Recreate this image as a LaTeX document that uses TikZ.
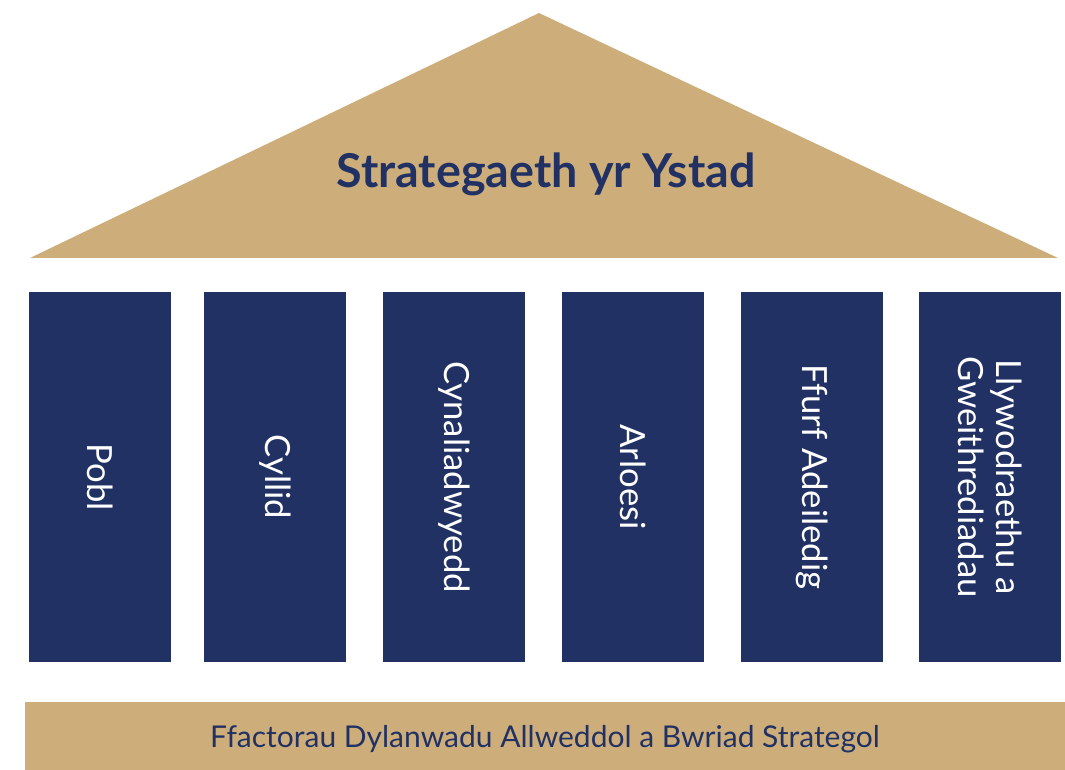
\documentclass[tikz,border=0pt]{standalone}
\usepackage{fontspec}
\setmainfont{Lato}
\definecolor{roofgold}{RGB}{205,174,123}
\definecolor{pillarnavy}{RGB}{33,49,99}
\tikzset{
  pillar/.style={fill=pillarnavy, draw=none, rotate=-90, minimum width=277.5pt, minimum height=106.5pt,
    inner sep=0pt, text=white, align=center, font=\fontsize{26}{29}\selectfont},
}
\begin{document}
\begin{tikzpicture}[x=0.75pt,y=0.75pt,yscale=-1,xscale=1]
  \useasboundingbox (0,0) rectangle (1065,770);

  %Roof
  \fill [roofgold] (539,13) -- (1058,258) -- (30,258) -- cycle ;
  % Text Node
  \node (roof) at (546,174) [text=pillarnavy, font=\fontsize{35}{37}\selectfont\bfseries] {Strategaeth yr Ystad};

  %Pillars
  \node (pobl) at (100,477) [pillar] {Pobl};
  \node (cyllid) at (275,477) [pillar] {Cyllid};
  \node (cynal) at (454,477) [pillar] {Cynaliadwyedd};
  \node (arloesi) at (633,477) [pillar] {Arloesi};
  \node (ffurf) at (812,477) [pillar] {Ffurf Adeiledig};
  \node (llyw) at (990,477) [pillar] {Llywodraethu a\\Gweithrediadau};

  %Base
  \fill [roofgold] (25,702) rectangle (1065,770) ;
  % Text Node
  \node (base) at (545,739) [text=pillarnavy, font=\fontsize{22.5}{24}\selectfont] {Ffactorau Dylanwadu Allweddol a Bwriad Strategol};

\end{tikzpicture}
\end{document}
